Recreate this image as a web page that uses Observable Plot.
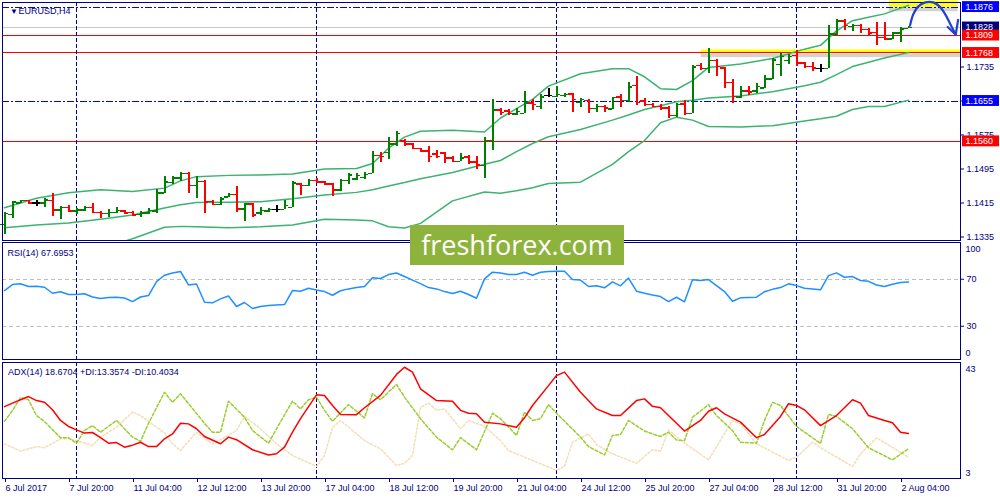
<!DOCTYPE html>
<html><head><meta charset="utf-8">
<script src="https://cdn.jsdelivr.net/npm/d3@7"></script>
<script src="https://cdn.jsdelivr.net/npm/@observablehq/plot@0.6"></script>
<style>
html,body{margin:0;padding:0;background:#fff;}
body{width:1000px;height:500px;position:relative;overflow:hidden;font-family:"Liberation Sans",Arial,sans-serif;}
.panel{position:absolute;left:0;width:1000px;overflow:hidden;}
#wm{position:absolute;left:410px;top:225px;width:214px;height:40px;background:#8db33d;color:#fff;
font-family:"Open Sans",sans-serif;font-size:27px;line-height:40px;text-align:center;letter-spacing:0px;}
</style></head><body>
<div id="p1" class="panel" style="top:0;height:241px"></div>
<div id="p2" class="panel" style="top:241px;height:120px"></div>
<div id="p3" class="panel" style="top:361px;height:139px"></div>
<div id="wm">freshforex.com</div>
<script>
// ---------- DATA ----------
const barOpen  = [1.1364,1.1388,1.1415,1.1421,1.1415,1.1415,1.1421,1.1399,1.1405,1.1396,1.1399,1.1404,1.1393,1.1390,1.1393,1.1396,1.1393,1.1388,1.1392,1.1396,1.1439,1.1463,1.1474,1.1484,1.1456,1.1466,1.1419,1.1412,1.1429,1.1435,1.1401,1.1413,1.1391,1.1396,1.1400,1.1400,1.1405,1.1460,1.1456,1.1468,1.1464,1.1460,1.1446,1.1468,1.1472,1.1475,1.1484,1.1527,1.1534,1.1554,1.1562,1.1554,1.1543,1.1537,1.1530,1.1533,1.1521,1.1513,1.1523,1.1511,1.1503,1.1562,1.1634,1.1631,1.1625,1.1626,1.1650,1.1642,1.1668,1.1666,1.1668,1.1672,1.1652,1.1656,1.1637,1.1642,1.1636,1.1664,1.1656,1.1692,1.1655,1.1647,1.1642,1.1639,1.1621,1.1648,1.1626,1.1739,1.1731,1.1750,1.1733,1.1699,1.1664,1.1678,1.1678,1.1686,1.1707,1.1741,1.1750,1.1762,1.1744,1.1736,1.1732,1.1732,1.1813,1.1843,1.1830,1.1833,1.1823,1.1816,1.1804,1.1801,1.1815,1.1826];
const barHigh  = [1.1393,1.1419,1.1422,1.1422,1.1421,1.1425,1.1437,1.1407,1.1409,1.1401,1.1407,1.1415,1.1395,1.1399,1.1405,1.1397,1.1395,1.1396,1.1401,1.1446,1.1477,1.1477,1.1486,1.1486,1.1477,1.1468,1.1422,1.1427,1.1437,1.1454,1.1415,1.1415,1.1404,1.1403,1.1409,1.1421,1.1466,1.1462,1.1470,1.1472,1.1466,1.1462,1.1470,1.1485,1.1485,1.1487,1.1536,1.1535,1.1568,1.1583,1.1564,1.1554,1.1544,1.1549,1.1539,1.1535,1.1524,1.1531,1.1527,1.1524,1.1570,1.1658,1.1637,1.1634,1.1637,1.1678,1.1658,1.1670,1.1684,1.1689,1.1673,1.1673,1.1660,1.1658,1.1646,1.1644,1.1664,1.1670,1.1699,1.1713,1.1660,1.1650,1.1647,1.1642,1.1650,1.1656,1.1739,1.1744,1.1778,1.1752,1.1735,1.1705,1.1689,1.1689,1.1696,1.1715,1.1754,1.1766,1.1764,1.1774,1.1746,1.1746,1.1741,1.1833,1.1846,1.1846,1.1835,1.1835,1.1825,1.1840,1.1840,1.1817,1.1829,1.1830];
const barLow   = [1.1341,1.1378,1.1413,1.1411,1.1407,1.1404,1.1384,1.1376,1.1393,1.1388,1.1396,1.1390,1.1378,1.1380,1.1391,1.1390,1.1386,1.1380,1.1388,1.1391,1.1438,1.1459,1.1466,1.1438,1.1425,1.1390,1.1409,1.1409,1.1427,1.1393,1.1371,1.1380,1.1386,1.1393,1.1393,1.1399,1.1404,1.1433,1.1454,1.1460,1.1456,1.1430,1.1443,1.1459,1.1468,1.1470,1.1484,1.1510,1.1517,1.1548,1.1549,1.1541,1.1535,1.1511,1.1520,1.1507,1.1510,1.1513,1.1505,1.1494,1.1473,1.1539,1.1621,1.1621,1.1621,1.1625,1.1633,1.1634,1.1663,1.1664,1.1663,1.1629,1.1640,1.1625,1.1629,1.1629,1.1634,1.1640,1.1652,1.1644,1.1642,1.1639,1.1633,1.1613,1.1617,1.1621,1.1626,1.1727,1.1720,1.1713,1.1684,1.1648,1.1660,1.1668,1.1672,1.1684,1.1705,1.1713,1.1741,1.1736,1.1731,1.1724,1.1723,1.1732,1.1809,1.1821,1.1819,1.1813,1.1807,1.1786,1.1797,1.1799,1.1793,1.1826];
const barClose = [1.1390,1.1417,1.1421,1.1415,1.1415,1.1422,1.1399,1.1405,1.1396,1.1399,1.1404,1.1393,1.1390,1.1393,1.1397,1.1392,1.1387,1.1392,1.1397,1.1439,1.1464,1.1474,1.1484,1.1456,1.1466,1.1417,1.1412,1.1425,1.1435,1.1401,1.1413,1.1387,1.1397,1.1400,1.1400,1.1409,1.1462,1.1456,1.1468,1.1464,1.1460,1.1446,1.1468,1.1481,1.1480,1.1482,1.1527,1.1525,1.1554,1.1578,1.1554,1.1543,1.1537,1.1525,1.1525,1.1521,1.1513,1.1521,1.1511,1.1505,1.1562,1.1634,1.1628,1.1626,1.1630,1.1650,1.1647,1.1664,1.1668,1.1670,1.1670,1.1658,1.1658,1.1637,1.1642,1.1639,1.1663,1.1656,1.1688,1.1652,1.1647,1.1642,1.1639,1.1621,1.1647,1.1626,1.1735,1.1731,1.1750,1.1736,1.1699,1.1666,1.1678,1.1676,1.1689,1.1707,1.1752,1.1760,1.1760,1.1744,1.1736,1.1733,1.1732,1.1813,1.1843,1.1833,1.1833,1.1823,1.1815,1.1804,1.1801,1.1815,1.1825,1.1828];

// Bollinger bands, read at these bar indices
const bbIdx   = [0,4,8,12,16,20,22,24,28,32,36,40,44,46,48,50,52,56,60,62,64,66,68,72,76,78,80,82,84,86,88,92,96,100,102,104,106,108,110,113];
const bbUpper = [1.1404,1.1426,1.1439,1.1446,1.1442,1.1450,1.1467,1.1477,1.1480,1.1481,1.1483,1.1495,1.1496,1.1508,1.1544,1.1570,1.1584,1.1586,1.1582,1.1615,1.1637,1.1659,1.1690,1.1719,1.1731,1.1731,1.1712,1.1684,1.1682,1.1703,1.1734,1.1742,1.1755,1.1777,1.1786,1.1820,1.1844,1.1852,1.1860,1.1880];
const bbMiddle= [1.1357,1.1363,1.1368,1.1377,1.1387,1.1403,1.1411,1.1416,1.1417,1.1418,1.1425,1.1434,1.1440,1.1446,1.1455,1.1463,1.1472,1.1487,1.1506,1.1515,1.1536,1.1555,1.1571,1.1588,1.1610,1.1622,1.1635,1.1644,1.1653,1.1657,1.1662,1.1667,1.1677,1.1691,1.1699,1.1717,1.1736,1.1746,1.1756,1.1769];
const bbLower = [1.1310,1.1299,1.1298,1.1307,1.1331,1.1358,1.1360,1.1359,1.1357,1.1359,1.1363,1.1377,1.1375,1.1373,1.1359,1.1356,1.1367,1.1420,1.1441,1.1438,1.1444,1.1451,1.1461,1.1464,1.1506,1.1536,1.1562,1.1604,1.1617,1.1610,1.1595,1.1594,1.1597,1.1608,1.1613,1.1619,1.1635,1.1642,1.1642,1.1657];

// Horizontal levels
const blueLevels = [1.1876, 1.1655];
const redLevels  = [1.1809, 1.1768, 1.1560];
const bidPrice   = 1.1828;
const priceTicks = [1.1335,1.1415,1.1495,1.1575,1.1655,1.1735];
const tagPrices  = [1.1828, 1.1876, 1.1809, 1.1768, 1.1655, 1.1560];
const tagColors  = ["#000080","#0000ff","#ff0000","#ff0000","#0000ff","#ff0000"];

// Highlight boxes (bar index range, price range)
const hlX1 = [87.1, 110.6];
const hlX2 = [119.6, 119.2];
const hlY1 = [1.1766, 1.1874];
const hlY2 = [1.1775, 1.1890];

// Hand-drawn arrow (bar index, price)
const arrowBar   = [113.2, 113.6, 114.2, 115.1, 116.1, 116.9, 117.6, 118.2, 118.9];
const arrowPrice = [1.1833, 1.1859, 1.1877, 1.1887, 1.1887, 1.1877, 1.1859, 1.1837, 1.1811];
const headBar    = [117.9, 118.9, 119.2];
const headPrice  = [1.1829, 1.1811, 1.1846];

// Week separators (bar index)
const weekSeps = [9, 39, 69, 99];

// Date axis
const dateTicks  = [0,8,16,24,32,40,48,56,64,72,80,88,96,104,112];
const dateLabels = ["6 Jul 2017","7 Jul 20:00","11 Jul 04:00","12 Jul 12:00","13 Jul 20:00","17 Jul 04:00","18 Jul 12:00","19 Jul 20:00","21 Jul 04:00","24 Jul 12:00","25 Jul 20:00","27 Jul 04:00","28 Jul 12:00","31 Jul 20:00","2 Aug 04:00"];

// RSI(14), one value per bar
const rsiVal = [60.4,65.5,66.1,63.8,64.0,63.2,58.1,59.3,57.0,57.0,57.6,54.9,53.6,54.4,54.6,54.0,51.0,54.9,56.1,68.0,73.4,75.3,76.6,65.2,65.9,50.4,49.9,53.3,55.7,46.8,50.2,45.1,46.8,47.6,48.0,48.5,60.4,59.8,62.3,60.8,59.5,56.4,60.2,61.8,62.9,63.8,71.2,70.6,74.0,75.3,72.3,69.3,66.3,62.9,61.8,59.5,57.8,59.8,57.0,53.8,70.3,76.0,75.4,74.0,74.0,76.0,73.4,76.0,76.6,76.8,76.8,69.7,69.3,63.8,64.4,62.7,67.8,64.4,71.0,59.8,58.1,56.6,55.3,51.0,54.7,50.8,69.5,68.9,69.7,64.6,59.5,51.3,54.2,54.4,54.7,59.4,61.4,62.9,66.1,64.6,62.3,61.7,61.0,73.1,75.4,71.7,72.3,68.9,68.2,65.1,63.8,65.7,67.2,67.7];
const rsiLevels = [70, 30];

// ADX(14)
const adxIdx = [0,1,3,4,5,6,7,8,9,10,11,12,13,14,15,16,17,18,19,20,21,22,23,24,25,27,28,29,31,33,34,35,36,37,39,40,41,42,44,45,47,49,50,51,52,54,56,57,58,59,60,62,64,65,66,68,69,70,72,74,76,77,79,80,81,82,85,87,88,89,90,92,94,95,97,98,99,100,102,104,106,107,108,110,111,112,113];
const adxVal = [28.0,29.2,31.5,30.1,29.5,26.9,23.2,21.1,19.9,18.8,19.0,17.2,15.3,15.5,13.9,14.6,15.6,14.1,14.1,16.8,18.5,22.2,22.0,20.3,17.6,15.1,17.4,16.5,13.0,11.2,11.6,13.9,19.1,23.8,32.1,31.9,28.4,25.3,25.2,27.6,31.9,39.2,41.7,40.0,34.2,30.1,29.9,26.7,25.7,25.5,22.6,22.0,20.8,24.1,28.4,35.3,38.8,40.0,33.0,27.2,24.9,24.9,30.1,30.7,28.1,27.6,19.5,23.2,26.4,27.6,25.5,22.6,17.2,18.3,24.6,29.0,28.4,26.9,21.4,24.9,30.4,29.2,24.9,23.2,22.4,19.1,18.67];
const plusIdx = [0,1,2,3,4,5,7,8,9,10,11,12,14,16,17,18,20,21,22,25,26,27,28,30,31,33,34,36,37,38,39,40,41,43,45,46,47,49,50,52,54,56,57,59,61,62,64,65,66,67,68,69,72,73,75,76,77,78,80,82,83,84,85,86,88,89,91,92,94,95,96,97,99,102,103,104,106,108,111,113];
const plusVal = [22.9,26.7,31.1,30.4,24.9,22.8,17.2,17.2,15.3,19.7,21.4,19.1,23.2,17.4,15.9,22.2,33.0,29.5,32.5,22.2,19.1,19.1,29.9,24.3,19.7,15.3,20.3,29.9,27.2,30.4,31.3,26.7,22.9,28.7,24.1,32.5,30.4,35.7,31.3,23.8,17.4,13.0,17.2,13.0,25.7,23.8,18.0,26.1,23.2,23.8,28.7,25.7,17.4,14.1,11.2,18.0,18.3,23.2,19.5,17.6,19.1,16.4,16.2,24.3,28.7,24.9,19.7,15.6,15.3,23.2,29.5,28.4,21.1,15.2,25.3,24.6,20.3,13.7,9.5,13.36];
const minusIdx = [0,2,4,5,7,8,9,11,12,14,16,17,20,21,22,24,26,27,29,30,32,34,36,39,40,41,42,45,47,49,50,51,52,53,54,55,57,58,60,62,63,66,69,70,71,73,74,76,79,81,82,83,85,88,91,92,94,98,99,101,102,106,107,109,112,113];
const minusVal = [15.1,12.5,14.1,13.7,16.8,16.8,16.2,14.5,17.4,20.8,26.1,24.9,18.8,15.1,12.7,19.1,15.1,16.5,19.7,24.6,20.3,15.1,11.0,7.2,11.0,20.8,23.2,16.2,13.3,7.5,8.3,11.0,27.8,29.2,26.7,27.2,20.3,23.2,21.1,16.2,12.7,9.3,5.8,7.2,15.6,18.5,14.8,11.6,8.3,13.0,12.5,19.9,15.3,9.5,23.2,22.0,15.1,9.3,10.4,15.6,13.7,7.2,11.6,17.2,12.1,10.40];

// ---------- BUILD ----------
const NAVY = "#000080";
const FONT = "'Liberation Sans', Arial, sans-serif";
const CRISP = "crispEdges";
const bars = barOpen.map((o, i) => ({i, o, h: barHigh[i], l: barLow[i], c: barClose[i]}));
const barColor = d => d.c > d.o ? "#008000" : d.c < d.o ? "#ff0000" : "#000000";
const bands = bbIdx.map((i, k) => ({i, u: bbUpper[k], m: bbMiddle[k], l: bbLower[k]}));
const tags = tagPrices.map((p, k) => ({p, color: tagColors[k]}));
const hls = hlX1.map((x1, k) => ({x1, x2: hlX2[k], y1: hlY1[k], y2: hlY2[k]}));
const arrow = arrowBar.map((b, k) => ({b, p: arrowPrice[k]}));
const head = headBar.map((b, k) => ({b, p: headPrice[k]}));
const xScale = {domain: [0, 113], range: [4, 908], axis: null, label: null};
const baseStyle = {background: "transparent", fontFamily: FONT, fontSize: "9px", overflow: "visible", color: NAVY};
const fmt4 = d3.format(".4f");
const tagH = 0.00128;

const main = Plot.plot({
  width: 1000, height: 241, marginLeft: 2, marginRight: 40, marginTop: 2, marginBottom: 1,
  style: baseStyle,
  x: xScale,
  y: {domain: [1.1335, 1.1876], range: [236.5, 6.575], axis: null, label: null},
  marks: [
    Plot.rect(hls, {x1: "x1", x2: "x2", y1: d => d.y1 - 0.0009, y2: "y1", fill: "#808080", fillOpacity: 0.35}),
    Plot.rect(hls, {x1: "x1", x2: "x2", y1: "y1", y2: "y2", fill: "#ffff00"}),
    Plot.ruleY([bidPrice], {stroke: "#c8c8c8", shapeRendering: CRISP}),
    Plot.ruleY(redLevels, {stroke: "#ff0000", shapeRendering: CRISP}),
    Plot.ruleY(blueLevels, {stroke: "#0000ff", strokeDasharray: "7,2,2,2", shapeRendering: CRISP}),
    Plot.ruleX(weekSeps, {stroke: NAVY, strokeDasharray: "4,2", shapeRendering: CRISP}),
    Plot.line(bands, {x: "i", y: "u", stroke: "#3cb371", clip: true}),
    Plot.line(bands, {x: "i", y: "m", stroke: "#3cb371", clip: true}),
    Plot.line(bands, {x: "i", y: "l", stroke: "#3cb371", clip: true}),
    Plot.ruleX(bars, {x: "i", y1: "l", y2: "h", stroke: barColor, strokeWidth: 2, shapeRendering: CRISP}),
    Plot.ruleY(bars, {y: "o", x1: d => d.i - 0.45, x2: "i", stroke: barColor, strokeWidth: 1.5, shapeRendering: CRISP}),
    Plot.ruleY(bars, {y: "c", x1: "i", x2: d => d.i + 0.45, stroke: barColor, strokeWidth: 1.5, shapeRendering: CRISP}),
    Plot.frame({stroke: NAVY, shapeRendering: CRISP}),
    Plot.axisY(priceTicks, {anchor: "right", label: null, tickSize: 3, tickPadding: 3, tickFormat: fmt4, stroke: NAVY, fill: NAVY}),
    Plot.rect(tags, {y1: d => d.p - tagH, y2: d => d.p + tagH, fill: "color", insetLeft: 960, insetRight: -39}),
    Plot.text(tags, {y: "p", text: d => fmt4(d.p), frameAnchor: "right", textAnchor: "start", dx: 5, fill: "#ffffff"}),
    Plot.line(arrow, {x: "b", y: "p", curve: "catmull-rom", stroke: "#2040d0", strokeWidth: 2.2}),
    Plot.line(head, {x: "b", y: "p", stroke: "#2040d0", strokeWidth: 2.2}),
    Plot.text(["\u25BC"], {frameAnchor: "top-left", dx: 7.5, dy: 8.5, fontSize: 8, fill: NAVY, lineAnchor: "middle"}),
    Plot.text(["EURUSD,H4"], {frameAnchor: "top-left", dx: 16, dy: 8.7, textAnchor: "start", lineAnchor: "middle", fill: NAVY})
  ]
});
document.getElementById("p1").append(main);

const rsiRows = rsiVal.map((v, i) => ({i, v}));
const rsi = Plot.plot({
  width: 1000, height: 120, marginLeft: 2, marginRight: 40, marginTop: 1, marginBottom: 2,
  style: baseStyle,
  x: xScale,
  y: {domain: [0, 100], range: [120, 2.5], axis: null, label: null},
  marks: [
    Plot.ruleY(rsiLevels, {stroke: "#c0c0c0", strokeDasharray: "4,3", shapeRendering: CRISP}),
    Plot.ruleX(weekSeps, {stroke: NAVY, strokeDasharray: "4,2", shapeRendering: CRISP}),
    Plot.line(rsiRows, {x: "i", y: "v", stroke: "#1e90ff", clip: true}),
    Plot.frame({stroke: NAVY, shapeRendering: CRISP}),
    Plot.axisY(rsiLevels, {anchor: "right", label: null, tickSize: 3, tickPadding: 3, stroke: NAVY, fill: NAVY}),
    Plot.text([100], {y: d => d, text: d => String(d), frameAnchor: "right", textAnchor: "start", dx: 5, dy: 5.5, fill: NAVY}),
    Plot.text([0], {y: d => d, text: d => String(d), frameAnchor: "right", textAnchor: "start", dx: 5, dy: -8, fill: NAVY}),
    Plot.text(["RSI(14) 67.6953"], {frameAnchor: "top-left", dx: 5, dy: 10.3, textAnchor: "start", lineAnchor: "middle", fill: NAVY})
  ]
});
document.getElementById("p2").append(rsi);

const adxRows = adxIdx.map((i, k) => ({i, v: adxVal[k]}));
const plusRows = plusIdx.map((i, k) => ({i, v: plusVal[k]}));
const minusRows = minusIdx.map((i, k) => ({i, v: minusVal[k]}));
const adx = Plot.plot({
  width: 1000, height: 139, marginLeft: 2, marginRight: 40, marginTop: 1, marginBottom: 22,
  style: baseStyle,
  x: xScale,
  y: {domain: [3, 43], range: [117, 2], axis: null, label: null},
  marks: [
    Plot.ruleX(weekSeps, {stroke: NAVY, strokeDasharray: "4,2", shapeRendering: CRISP}),
    Plot.line(minusRows, {x: "i", y: "v", stroke: "#f5deb3", strokeDasharray: "2,2", clip: true}),
    Plot.line(plusRows, {x: "i", y: "v", stroke: "#9acd32", strokeDasharray: "3,2", clip: true}),
    Plot.line(adxRows, {x: "i", y: "v", stroke: "#ff0000", clip: true}),
    Plot.frame({stroke: NAVY, shapeRendering: CRISP}),
    Plot.text([43], {y: d => d, text: d => String(d), frameAnchor: "right", textAnchor: "start", dx: 5, dy: 5.7, fill: NAVY}),
    Plot.text([3], {y: d => d, text: d => String(d), frameAnchor: "right", textAnchor: "start", dx: 5, dy: -5.3, fill: NAVY}),
    Plot.axisX(dateTicks, {anchor: "bottom", label: null, tickSize: 4, tickPadding: 2, textAnchor: "start", dx: 1,
      tickFormat: d => dateLabels[dateTicks.indexOf(d)], stroke: NAVY, fill: NAVY}),
    Plot.text(["ADX(14) 18.6704 +DI:13.3574 -DI:10.4034"], {frameAnchor: "top-left", dx: 5.5, dy: 10, textAnchor: "start", lineAnchor: "middle", fill: NAVY})
  ]
});
document.getElementById("p3").append(adx);
</script>
</body></html>
